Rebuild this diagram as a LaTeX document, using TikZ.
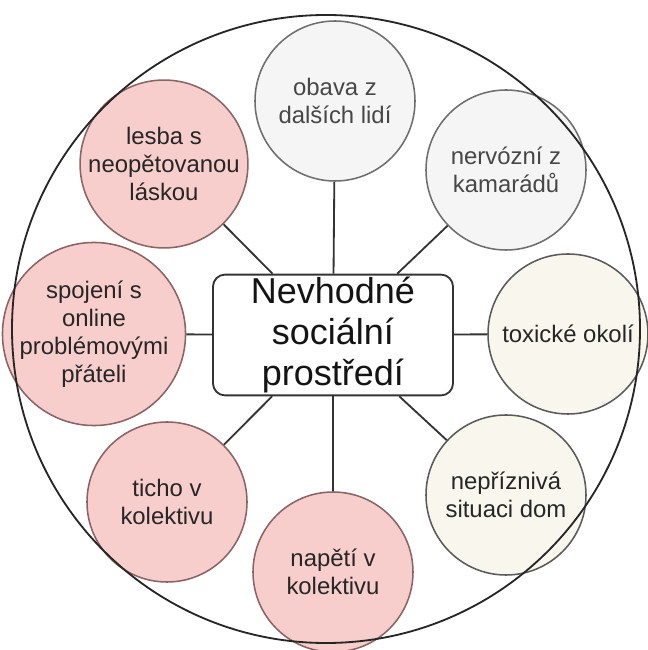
\documentclass[tikz,border=0pt]{standalone}
\usepackage{fontspec}
\setmainfont{Liberation Sans}
\usetikzlibrary{positioning}

\definecolor{grayfill}{HTML}{F5F5F5}
\definecolor{graydraw}{HTML}{6E6E6E}
\definecolor{beigefill}{HTML}{F9F7ED}
\definecolor{beigedraw}{HTML}{5A5A5A}
\definecolor{pinkfill}{HTML}{F8CECC}
\definecolor{pinkdraw}{HTML}{8A6464}
\definecolor{linkgray}{HTML}{333333}

\begin{document}
\begin{tikzpicture}[
    bubble/.style={circle, line width=1.1pt, minimum size=4cm, inner sep=0pt,
        align=center, font=\fontsize{17pt}{20pt}\selectfont},
    graybubble/.style={bubble, draw=graydraw, fill=grayfill, text=black!72},
    beigebubble/.style={bubble, draw=beigedraw, fill=beigefill, text=black!85},
    pinkbubble/.style={bubble, draw=pinkdraw, fill=pinkfill, text=black!85},
    hub/.style={draw=linkgray, line width=1.3pt, rounded corners=0.3cm, fill=white,
        minimum width=6cm, minimum height=3.02cm, inner sep=0pt, align=center,
        text=black!92, font=\fontsize{25.6pt}{29.5pt}\selectfont},
    link/.style={draw=linkgray, line width=1.3pt}
]
    \useasboundingbox (0,0) rectangle (16.2,16.25);

    % Centre
    \node[hub] (env) at (8.325,7.875) {Nevhodné\\sociální\\prostředí};

    % Gray: worries about people
    \node[graybubble] (fear) at (8.375,13.725) {obava z\\dalších lidí};
    \node[graybubble] (nervous) at (12.65,12.0) {nervózní z\\kamarádů};

    % Beige: surroundings
    \node[beigebubble] (toxic) at (14.2,7.9) {toxické okolí};
    \node[beigebubble] (home) at (12.65,3.875) {nepříznivá\\situaci dom};

    % Pink: people around
    \node[pinkbubble] (tension) at (8.325,1.95) {napětí v\\kolektivu};
    \node[pinkbubble] (silence) at (4.175,3.7) {ticho v\\kolektivu};
    \node[pinkbubble] (online) at (2.35,7.9) {spojení s\\online\\problémovými\\přáteli};
    \node[pinkbubble] (love) at (4.1,12.15) {lesba s\\neopětovanou\\láskou};

    % Spokes
    \foreach \n in {fear,nervous,toxic,home,tension,silence,online,love} {
        \draw[link] (env) -- (\n);
    }

    % Outer ring
    \draw[line width=1.3pt, black!85] (8.15,8.025) circle (7.85);

\end{tikzpicture}
\end{document}
